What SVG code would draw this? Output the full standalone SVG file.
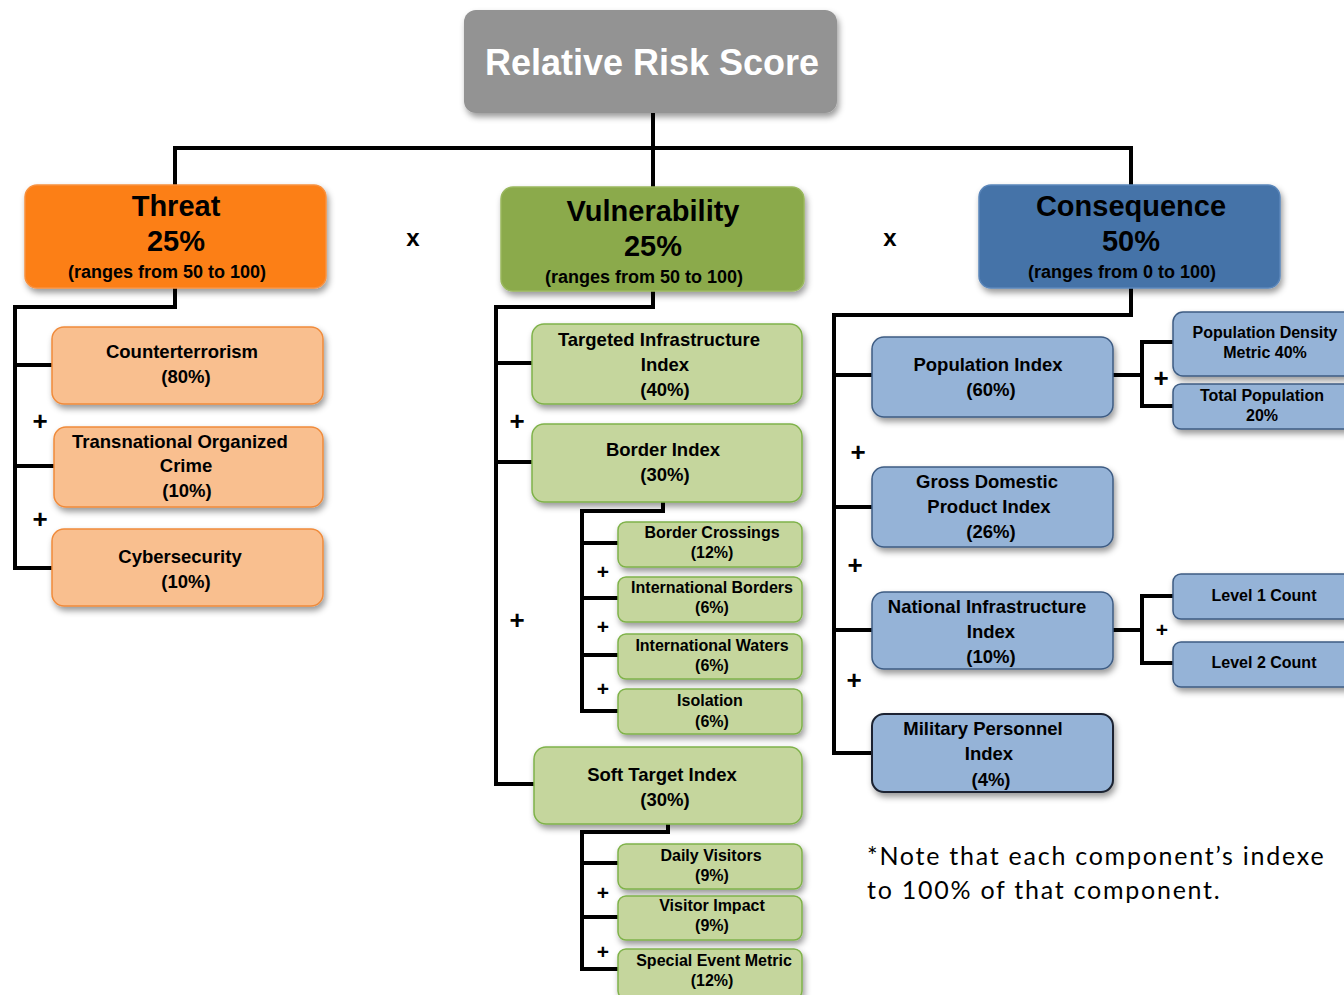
<svg xmlns="http://www.w3.org/2000/svg" width="1344" height="995" viewBox="0 0 1344 995">
<defs>
<filter id="sh" x="-10%" y="-10%" width="130%" height="140%">
<feDropShadow dx="2" dy="4" stdDeviation="3" flood-color="#000" flood-opacity="0.4"/>
</filter>
<style>
text{font-family:"Liberation Sans",Arial,sans-serif;font-weight:bold;fill:#000;text-anchor:middle}
.root{fill:#939393}
.thr{fill:#FC7F19;stroke:#F7913F;stroke-width:1.5}
.thc{fill:#F9BF8F;stroke:#F08B3B;stroke-width:1.5}
.vul{fill:#8BAA4B;stroke:#9AB85E;stroke-width:1.5}
.vuc{fill:#C5D69D;stroke:#7FB24A;stroke-width:1.5}
.con{fill:#4573A8;stroke:#5A86BA;stroke-width:1.5}
.coc{fill:#95B3D7;stroke:#3E5C83;stroke-width:1.5}
.big{font-size:29px}
.rng{font-size:18px}
.mid{font-size:18.5px}
.sm{font-size:16px}
.op{font-size:26px}
.ops{font-size:21px}
.ln{fill:none;stroke:#000;stroke-width:4}
.note{font-family:Lato,"Open Sans",sans-serif;font-weight:normal;font-size:25px;text-anchor:start;letter-spacing:1.75px}
</style>
</defs>
<g id="connectors">
<path class="ln" d="M653,112V187M175,185V148H1131V185"/>
<path class="ln" d="M175,288V307H15V568H52M15,365H52M15,466H54"/>
<path class="ln" d="M653,291V307H496V784H535M496,363H533M496,462H533"/>
<path class="ln" d="M663,502V511H582V711H619M582,543H619M582,598H619M582,655H619"/>
<path class="ln" d="M668,824V832H582V969H619M582,863H619M582,917H619"/>
<path class="ln" d="M1131,288V315H834V753H872M834,375H872M834,507H872M834,630H872"/>
<path class="ln" d="M1113,375H1142M1174,342H1142V406H1174"/>
<path class="ln" d="M1113,630H1142M1174,596H1142V663H1174"/>
</g>
<g id="operators">
<text class="op" x="40" y="430">+</text>
<text class="op" x="40" y="528">+</text>
<text class="op" x="517" y="430">+</text>
<text class="op" x="517" y="629">+</text>
<text class="ops" x="603" y="579">+</text>
<text class="ops" x="603" y="634">+</text>
<text class="ops" x="603" y="696">+</text>
<text class="ops" x="603" y="900">+</text>
<text class="ops" x="603" y="959">+</text>
<text class="op" x="858" y="461">+</text>
<text class="op" x="855" y="574">+</text>
<text class="op" x="854" y="689">+</text>
<text class="op" x="1161" y="387">+</text>
<text class="ops" x="1162" y="637">+</text>
<text class="op" x="413" y="246" style="font-size:24px">x</text>
<text class="op" x="890" y="246" style="font-size:24px">x</text>
</g>
<g id="root">
<rect class="root" x="464" y="10" width="373" height="103" rx="12" filter="url(#sh)"/>
<text x="652" y="75" style="font-size:36px;fill:#fff">Relative Risk Score</text>
</g>
<g id="threat">
<rect class="thr" x="25" y="185" width="301" height="103" rx="12" filter="url(#sh)"/>
<text class="big" x="176" y="216">Threat</text>
<text class="big" x="176" y="251">25%</text>
<text class="rng" x="167" y="278">(ranges from 50 to 100)</text>
</g>
<g id="counterterrorism">
<rect class="thc" x="52" y="327" width="271" height="77" rx="12" filter="url(#sh)"/>
<text class="mid" x="182" y="358">Counterterrorism</text>
<text class="mid" x="186" y="383">(80%)</text>
</g>
<g id="transnational">
<rect class="thc" x="54" y="427" width="269" height="80" rx="12" filter="url(#sh)"/>
<text class="mid" x="180" y="448">Transnational Organized</text>
<text class="mid" x="186" y="472">Crime</text>
<text class="mid" x="187" y="497">(10%)</text>
</g>
<g id="cybersecurity">
<rect class="thc" x="52" y="529" width="271" height="77" rx="12" filter="url(#sh)"/>
<text class="mid" x="180" y="563">Cybersecurity</text>
<text class="mid" x="186" y="588">(10%)</text>
</g>
<g id="vulnerability">
<rect class="vul" x="501" y="187" width="303" height="104" rx="12" filter="url(#sh)"/>
<text class="big" x="653" y="221">Vulnerability</text>
<text class="big" x="653" y="256">25%</text>
<text class="rng" x="644" y="283">(ranges from 50 to 100)</text>
</g>
<g id="targeted">
<rect class="vuc" x="532" y="324" width="270" height="80" rx="12" filter="url(#sh)"/>
<text class="mid" x="659" y="346">Targeted Infrastructure</text>
<text class="mid" x="665" y="371">Index</text>
<text class="mid" x="665" y="396">(40%)</text>
</g>
<g id="border">
<rect class="vuc" x="532" y="424" width="270" height="78" rx="12" filter="url(#sh)"/>
<text class="mid" x="663" y="456">Border Index</text>
<text class="mid" x="665" y="481">(30%)</text>
</g>
<g id="border-crossings">
<rect class="vuc" x="618" y="522" width="184" height="45" rx="8" filter="url(#sh)"/>
<text class="sm" x="712" y="538">Border Crossings</text>
<text class="sm" x="712" y="558">(12%)</text>
</g>
<g id="intl-borders">
<rect class="vuc" x="618" y="577" width="184" height="45" rx="8" filter="url(#sh)"/>
<text class="sm" x="712" y="593">International Borders</text>
<text class="sm" x="712" y="613">(6%)</text>
</g>
<g id="intl-waters">
<rect class="vuc" x="618" y="634" width="184" height="45" rx="8" filter="url(#sh)"/>
<text class="sm" x="712" y="651">International Waters</text>
<text class="sm" x="712" y="671">(6%)</text>
</g>
<g id="isolation">
<rect class="vuc" x="618" y="689" width="184" height="45" rx="8" filter="url(#sh)"/>
<text class="sm" x="710" y="706">Isolation</text>
<text class="sm" x="712" y="727">(6%)</text>
</g>
<g id="soft-target">
<rect class="vuc" x="534" y="747" width="268" height="77" rx="12" filter="url(#sh)"/>
<text class="mid" x="662" y="781">Soft Target Index</text>
<text class="mid" x="665" y="806">(30%)</text>
</g>
<g id="daily-visitors">
<rect class="vuc" x="618" y="844" width="184" height="45" rx="8" filter="url(#sh)"/>
<text class="sm" x="711" y="861">Daily Visitors</text>
<text class="sm" x="712" y="881">(9%)</text>
</g>
<g id="visitor-impact">
<rect class="vuc" x="618" y="896" width="184" height="44" rx="8" filter="url(#sh)"/>
<text class="sm" x="712" y="911">Visitor Impact</text>
<text class="sm" x="712" y="931">(9%)</text>
</g>
<g id="special-event">
<rect class="vuc" x="618" y="949" width="184" height="50" rx="8" filter="url(#sh)"/>
<text class="sm" x="714" y="966">Special Event Metric</text>
<text class="sm" x="712" y="986">(12%)</text>
</g>
<g id="consequence">
<rect class="con" x="979" y="185" width="301" height="103" rx="12" filter="url(#sh)"/>
<text class="big" x="1131" y="216">Consequence</text>
<text class="big" x="1131" y="251">50%</text>
<text class="rng" x="1122" y="278">(ranges from 0 to 100)</text>
</g>
<g id="population">
<rect class="coc" x="872" y="337" width="241" height="80" rx="12" filter="url(#sh)"/>
<text class="mid" x="988" y="371">Population Index</text>
<text class="mid" x="991" y="396">(60%)</text>
</g>
<g id="pop-density">
<rect class="coc" x="1173" y="312" width="190" height="64" rx="10" filter="url(#sh)"/>
<text class="sm" x="1265" y="338">Population Density</text>
<text class="sm" x="1265" y="358">Metric 40%</text>
</g>
<g id="total-population">
<rect class="coc" x="1173" y="384" width="190" height="45" rx="8" filter="url(#sh)"/>
<text class="sm" x="1262" y="401">Total Population</text>
<text class="sm" x="1262" y="421">20%</text>
</g>
<g id="gdp">
<rect class="coc" x="872" y="467" width="241" height="80" rx="12" filter="url(#sh)"/>
<text class="mid" x="987" y="488">Gross Domestic</text>
<text class="mid" x="989" y="513">Product Index</text>
<text class="mid" x="991" y="538">(26%)</text>
</g>
<g id="national-infrastructure">
<rect class="coc" x="872" y="592" width="241" height="77" rx="12" filter="url(#sh)"/>
<text class="mid" x="987" y="613">National Infrastructure</text>
<text class="mid" x="991" y="638">Index</text>
<text class="mid" x="991" y="663">(10%)</text>
</g>
<g id="level1">
<rect class="coc" x="1173" y="574" width="190" height="45" rx="8" filter="url(#sh)"/>
<text class="sm" x="1264" y="601">Level 1 Count</text>
</g>
<g id="level2">
<rect class="coc" x="1173" y="642" width="190" height="45" rx="8" filter="url(#sh)"/>
<text class="sm" x="1264" y="668">Level 2 Count</text>
</g>
<g id="military">
<rect class="coc" x="872" y="714" width="241" height="78" rx="12" filter="url(#sh)" style="stroke:#1a2330;stroke-width:2"/>
<text class="mid" x="983" y="735">Military Personnel</text>
<text class="mid" x="989" y="760">Index</text>
<text class="mid" x="991" y="786">(4%)</text>
</g>
<g id="note">
<text class="note" x="867" y="865">*Note that each component’s indexe</text>
<text class="note" x="867" y="899">to 100% of that component.</text>
</g>
</svg>
